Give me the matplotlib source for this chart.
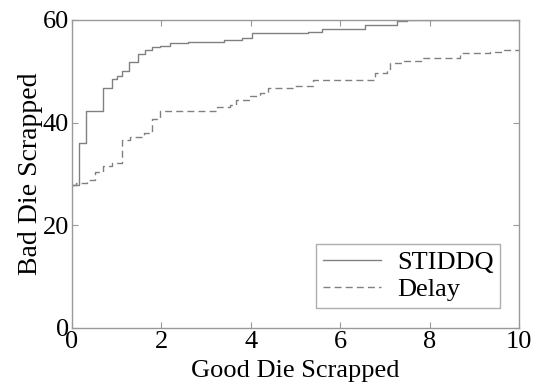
import matplotlib
matplotlib.use("Agg")
import matplotlib.pyplot as plt

# Step curves: good die scrapped (x) vs bad die scrapped (y)
stiddq_x = [0.0, 0.16, 0.31, 0.69, 0.89, 1.0, 1.11, 1.28, 1.48, 1.63, 1.8, 1.97, 2.19, 2.6, 2.93,
            3.4, 3.8, 4.02, 5.28, 5.6, 6.55, 7.26, 7.49, 10.0]
stiddq_y = [27.9, 36.1, 42.2, 46.7, 48.5, 49.0, 50.0, 51.9, 53.3, 54.2, 54.7, 55.0, 55.5, 55.7, 55.8,
            56.1, 56.5, 57.4, 57.7, 58.2, 59.1, 59.8, 60.0, 60.0]

delay_x = [0.0, 0.1, 0.33, 0.51, 0.69, 0.89, 1.11, 1.3, 1.6, 1.8, 1.97, 3.24, 3.53, 3.68, 3.98,
           4.2, 4.39, 4.98, 5.39, 6.78, 7.04, 7.11, 7.4, 7.8, 8.68, 9.35, 9.64, 10.0]
delay_y = [27.9, 28.3, 28.8, 30.3, 31.6, 32.1, 36.6, 37.3, 37.9, 40.7, 42.2, 43.0, 43.5, 44.4, 45.1,
           45.7, 46.7, 47.2, 48.3, 49.6, 50.4, 51.6, 52.0, 52.6, 53.5, 53.8, 54.2, 54.2]

x_ticks = [0, 2, 4, 6, 8, 10]
y_ticks = [0, 20, 40, 60]

plt.rcParams['font.family'] = ['Liberation Serif', 'DejaVu Serif']

fig = plt.figure(figsize=(5.36, 3.85), dpi=100)
ax = fig.add_axes([72 / 536, 57 / 385, 447 / 536, 308 / 385])

line_color = '#808080'
ax.step(stiddq_x, stiddq_y, where='post', color=line_color, lw=1.0, label='STIDDQ')
ax.step(delay_x, delay_y, where='post', color=line_color, lw=1.0, ls=(0, (5, 3)), label='Delay')

ax.set_xlim(0, 10)
ax.set_ylim(0, 60)
ax.set_xticks(x_ticks)
ax.set_yticks(y_ticks)
ax.tick_params(direction='in', top=True, right=True, length=4, width=0.8,
               color='#999999', labelsize=19, pad=2)
for s in ax.spines.values():
    s.set_color('#999999')
    s.set_linewidth(1.0)

ax.set_xlabel('Good Die Scrapped', fontsize=19, labelpad=5)
ax.set_ylabel('Bad Die Scrapped', fontsize=20, labelpad=0)

leg = ax.legend(loc='lower right', bbox_to_anchor=(500 / 536, 77 / 385),
                bbox_transform=fig.transFigure, fontsize=19, frameon=True,
                fancybox=False, handlelength=2.2, borderpad=0.25, labelspacing=0.15,
                handletextpad=0.6, borderaxespad=0)
leg.get_frame().set_edgecolor('#999999')
leg.get_frame().set_linewidth(1.0)

fig.savefig('out.png', dpi=100)
